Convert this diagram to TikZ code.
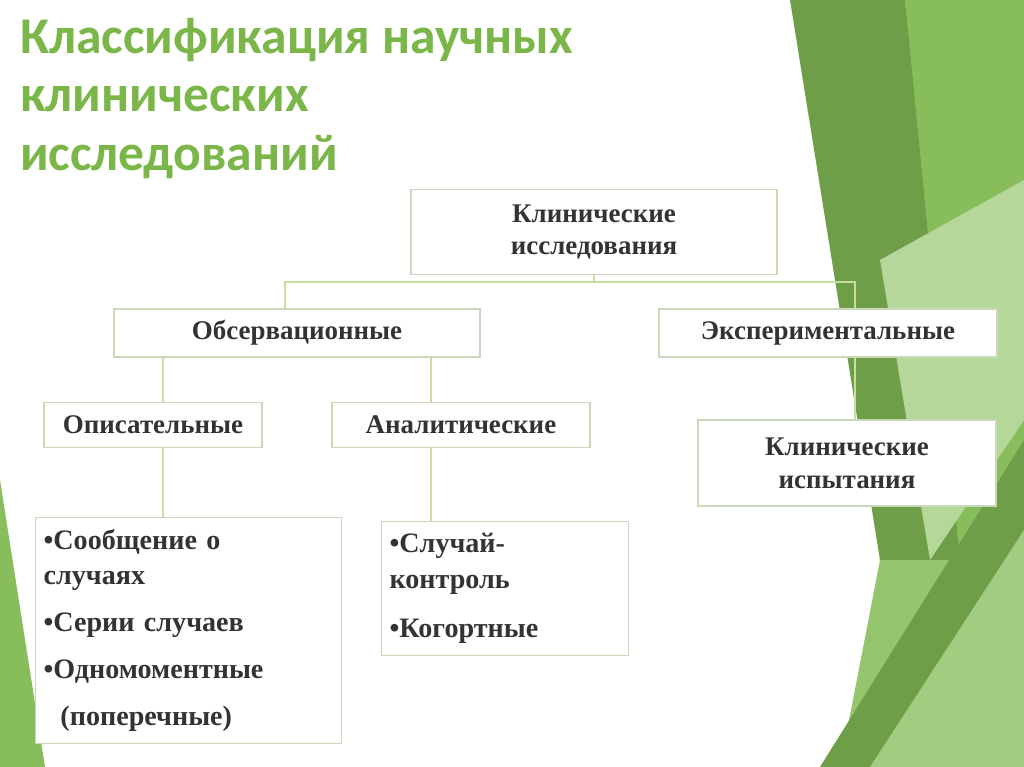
\documentclass[tikz,border=0pt]{standalone}
\usepackage{fontspec}
\setmainfont{Liberation Serif}
\newfontfamily\titlefont{Carlito}
\usetikzlibrary{positioning}
\definecolor{titlegreen}{HTML}{7AB648}
\definecolor{darkstripe}{HTML}{6E9F48}
\definecolor{linegreen}{HTML}{C8DDA0}
\definecolor{boxline}{HTML}{C9D8B8}
\newlength\px
\setlength\px{0.03cm}
\tikzset{
  box/.style={rectangle, draw=boxline, line width=1pt, fill=white, font=\bfseries\fontsize{23}{28}\selectfont, text=black!80, align=center, inner sep=2pt},
  listbox/.style={box, align=left, anchor=north west, inner xsep=8\px, inner ysep=12\px, font=\bfseries\fontsize{24}{30}\selectfont},
  conn/.style={draw=linegreen, line width=2.5pt}
}
\begin{document}
\begin{tikzpicture}[x=0.03cm, y=-0.03cm]
    \useasboundingbox (0,0) rectangle (1024,767);
    % background stripes
    \fill[white] (0,0) rectangle (1024,767);
    \fill[titlegreen!90] (905,0) -- (1024,0) -- (1024,767) -- (955,767) -- cycle;
    \fill[titlegreen!80] (880,560) -- (960,560) -- (960,767) -- (840,767) -- cycle;
    \fill[darkstripe] (790,0) -- (905,0) -- (960,560) -- (880,560) -- cycle;
    \fill[titlegreen!55] (880,260) -- (1024,180) -- (1024,420) -- (930,560) -- cycle;
    \fill[darkstripe] (820,767) -- (1024,440) -- (1024,767) -- cycle;
    \fill[titlegreen!70] (870,767) -- (1024,530) -- (1024,767) -- cycle;
    \fill[titlegreen!90] (0,480) -- (45,767) -- (0,767) -- cycle;
    % title
    \node[anchor=north west, align=left, text=titlegreen, font=\titlefont\bfseries\fontsize{44}{50}\selectfont] (title) at (16,14) {Классификация научных\\клинических\\исследований};
    % place nodes
    \node[box, minimum width=366\px, minimum height=85\px] (clinical) at (594,232) {Клинические\\исследования};
    \node[box, minimum width=366\px, minimum height=48\px] (observ) at (297,333) {Обсервационные};
    \node[box, minimum width=338\px, minimum height=48\px] (experim) at (828,333) {Экспериментальные};
    \node[box, minimum width=218\px, minimum height=45\px] (descr) at (153,425) {Описательные};
    \node[box, minimum width=258\px, minimum height=45\px] (analyt) at (461,425) {Аналитические};
    \node[box, minimum width=298\px, minimum height=86\px] (trials) at (847,463) {Клинические\\испытания};
    \node[listbox, text width=290\px] (descrlist) at (35,517)
      {\raggedright •Сообщение о\\случаях\\[10pt]•Серии случаев\\[10pt]•Одномоментные\\[10pt]\hspace{0.6em}(поперечные)\\[4pt]};
    \node[listbox, text width=231\px] (analytlist) at (381,521)
      {\raggedright •Случай-\\контроль\\[12pt]•Когортные\\[4pt]};
    % connectors
    \coordinate (fork) at (594,282);
    \path[conn] (clinical.south) -- (fork);
    \path[conn] (observ.north -| 285,0) |- (fork) -| (experim.north -| 855,0);
    \path[conn] (experim.south -| 855,0) -- (trials.north -| 855,0);
    \path[conn] (observ.south -| 163,0) -- (descr.north -| 163,0);
    \path[conn] (observ.south -| 431,0) -- (analyt.north -| 431,0);
    \path[conn] (descr.south -| 163,0) -- (descrlist.north -| 163,0);
    \path[conn] (analyt.south -| 431,0) -- (analytlist.north -| 431,0);
\end{tikzpicture}
\end{document}
